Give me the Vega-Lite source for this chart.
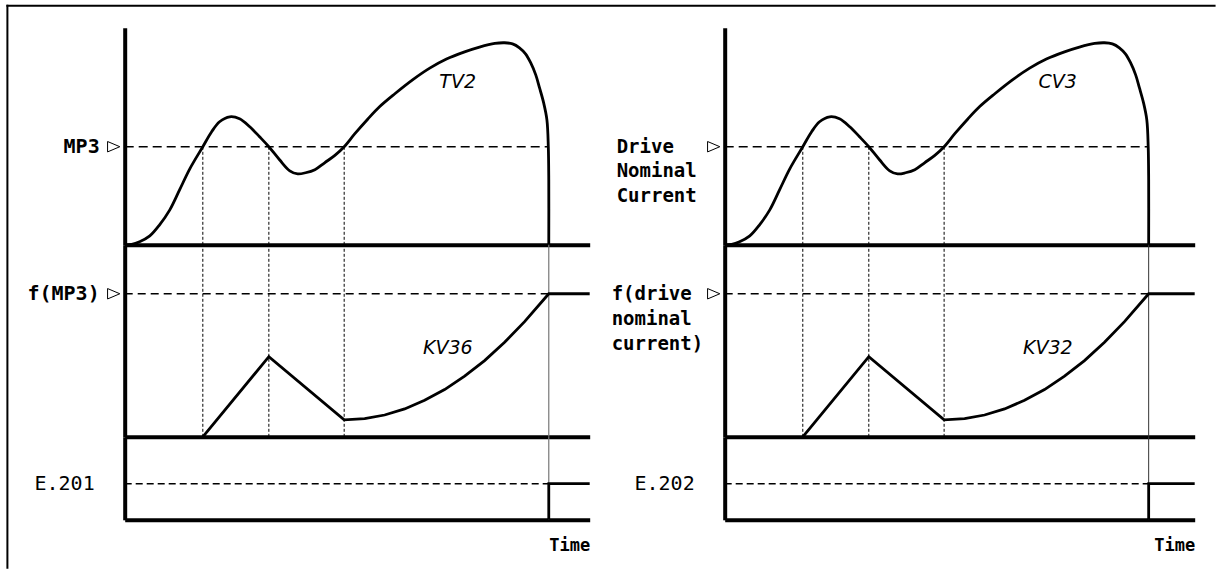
{
  "$schema": "https://vega.github.io/schema/vega-lite/v6.json",
  "padding": {"left": 4.7, "top": 2.8, "right": 0, "bottom": 0},
  "background": "white",
  "config": {
    "view": {"stroke": null},
    "axis": {"domainColor": "black", "domainWidth": 4, "ticks": false, "labels": false, "grid": false}
  },
  "datasets": {
    "tv2": [
      {"t": 0, "v": 0}, {"t": 1.5, "v": 0.2}, {"t": 3.2, "v": 1.4}, {"t": 5.4, "v": 4.1}, {"t": 7.5, "v": 9.2},
      {"t": 9.7, "v": 16.1}, {"t": 11.8, "v": 25.3}, {"t": 14.0, "v": 35.0}, {"t": 16.8, "v": 45.2}, {"t": 18.7, "v": 52.1},
      {"t": 20.4, "v": 56.7}, {"t": 22.6, "v": 59.0}, {"t": 24.7, "v": 58.1}, {"t": 26.9, "v": 54.4}, {"t": 29.0, "v": 49.8},
      {"t": 31.0, "v": 45.2}, {"t": 33.3, "v": 39.2}, {"t": 35.5, "v": 34.1}, {"t": 37.2, "v": 32.7}, {"t": 38.9, "v": 33.2},
      {"t": 40.9, "v": 34.6}, {"t": 43.0, "v": 37.8}, {"t": 45.2, "v": 41.2}, {"t": 47.2, "v": 45.2}, {"t": 49.5, "v": 51.2},
      {"t": 52.3, "v": 58.0}, {"t": 54.8, "v": 63.6}, {"t": 58.1, "v": 69.6}, {"t": 61.9, "v": 76.0}, {"t": 65.6, "v": 81.4},
      {"t": 69.2, "v": 85.6}, {"t": 73.1, "v": 88.9}, {"t": 76.3, "v": 91.1}, {"t": 79.6, "v": 92.8}, {"t": 81.7, "v": 93.1},
      {"t": 83.4, "v": 92.6}, {"t": 84.9, "v": 90.8}, {"t": 86.2, "v": 88.0}, {"t": 87.3, "v": 83.9}, {"t": 88.4, "v": 78.3},
      {"t": 89.2, "v": 72.4}, {"t": 90.1, "v": 65.4}, {"t": 90.8, "v": 57.6}, {"t": 91.1, "v": 45.2}, {"t": 91.2, "v": 30.0},
      {"t": 91.2, "v": 0}
    ],
    "kv36": [
      {"t": 16.8, "v": 0}, {"t": 31.0, "v": 41.7}, {"t": 47.2, "v": 8.85}, {"t": 51.6, "v": 9.5}, {"t": 55.9, "v": 11.35},
      {"t": 60.2, "v": 14.5}, {"t": 64.5, "v": 19.0}, {"t": 68.8, "v": 24.6}, {"t": 73.1, "v": 31.6}, {"t": 77.4, "v": 39.7},
      {"t": 81.7, "v": 49.2}, {"t": 86.0, "v": 60.0}, {"t": 91.2, "v": 74.5}, {"t": 100, "v": 74.5}
    ],
    "kv32": [
      {"t": 16.8, "v": 0}, {"t": 31.0, "v": 41.7}, {"t": 47.2, "v": 8.85}, {"t": 51.6, "v": 9.5}, {"t": 55.9, "v": 11.35},
      {"t": 60.2, "v": 14.5}, {"t": 64.5, "v": 19.0}, {"t": 68.8, "v": 24.6}, {"t": 73.1, "v": 31.6}, {"t": 77.4, "v": 39.7},
      {"t": 81.7, "v": 49.2}, {"t": 86.0, "v": 60.0}, {"t": 91.2, "v": 74.5}, {"t": 101.1, "v": 74.5}
    ],
    "e201": [
      {"t": 91.2, "v": 0}, {"t": 91.2, "v": 1}, {"t": 100, "v": 1}
    ],
    "e202": [
      {"t": 91.2, "v": 0}, {"t": 91.2, "v": 1}, {"t": 101.1, "v": 1}
    ],
    "crossings": [{"t": 16.8}, {"t": 31.0}, {"t": 47.2}],
    "trip": [{"t": 91.2}]
  },
  "columns": 2,
  "spacing": {"row": 0, "column": 135},
  "bounds": "flush",
  "concat": [
    {
      "width": 465, "height": 217,
      "layer": [
        {"data": {"values": [{}]}, "mark": {"type": "rule", "color": "black", "strokeWidth": 2},
         "encoding": {"x": {"datum": -25.44}, "x2": {"datum": 234.6}, "y": {"datum": 110.138}}},
        {"data": {"values": [{}]}, "mark": {"type": "rule", "color": "black", "strokeWidth": 2},
         "encoding": {"x": {"datum": -25.226}, "y": {"datum": 110.6}, "y2": {"datum": -149.3}}},
        {"data": {"name": "crossings"}, "mark": {"type": "rule", "color": "black", "strokeWidth": 1, "strokeDash": [3, 2]},
         "encoding": {"x": {"field": "t", "type": "quantitative", "title": null}, "y": {"datum": 0}, "y2": {"datum": 45.2}}},
        {"data": {"values": [{}]}, "mark": {"type": "rule", "color": "black", "strokeWidth": 1.5, "strokeDash": [9, 5]},
         "encoding": {"x": {"datum": 0}, "x2": {"datum": 91.1}, "y": {"datum": 45.2}}},
        {"data": {"values": [{}]}, "mark": {"type": "text", "text": "TV2", "font": "DejaVu Sans", "fontStyle": "italic", "fontSize": 19, "align": "center", "baseline": "middle", "color": "black"},
         "encoding": {"x": {"datum": 71.6}, "y": {"datum": 75.1}}},
        {"data": {"values": [{}]}, "mark": {"type": "text", "text": "MP3", "font": "DejaVu Sans Mono", "fontWeight": "bold", "fontSize": 20, "align": "right", "baseline": "middle", "dx": -25, "color": "black"},
         "encoding": {"x": {"datum": 0}, "y": {"datum": 45.2}}},
        {"data": {"values": [{}]}, "mark": {"type": "point", "shape": "M-1,-0.85L1,0L-1,0.85Z", "filled": false, "size": 150, "strokeWidth": 1, "color": "black", "opacity": 1, "xOffset": -11},
         "encoding": {"x": {"datum": 0}, "y": {"datum": 45.2}}},
        {"data": {"name": "tv2"}, "mark": {"type": "line", "interpolate": "catmull-rom", "color": "black", "strokeWidth": 2.8},
         "encoding": {
           "x": {"field": "t", "type": "quantitative", "scale": {"domain": [0, 100], "nice": false, "zero": false}, "axis": {"title": null}},
           "y": {"field": "v", "type": "quantitative", "scale": {"domain": [0, 100], "nice": false, "zero": false}, "axis": {"title": null}}}}
      ]
    },
    {
      "width": 470, "height": 217,
      "layer": [
        {"data": {"name": "crossings"}, "mark": {"type": "rule", "color": "black", "strokeWidth": 1, "strokeDash": [3, 2]},
         "encoding": {"x": {"field": "t", "type": "quantitative", "title": null}, "y": {"datum": 0}, "y2": {"datum": 45.2}}},
        {"data": {"values": [{}]}, "mark": {"type": "rule", "color": "black", "strokeWidth": 1.5, "strokeDash": [9, 5]},
         "encoding": {"x": {"datum": 0}, "x2": {"datum": 91.1}, "y": {"datum": 45.2}}},
        {"data": {"values": [{}]}, "mark": {"type": "text", "text": "CV3", "font": "DejaVu Sans", "fontStyle": "italic", "fontSize": 19, "align": "center", "baseline": "middle", "color": "black"},
         "encoding": {"x": {"datum": 71.6}, "y": {"datum": 75.1}}},
        {"data": {"values": [{}]}, "mark": {"type": "text", "text": ["Drive", "Nominal", "Current"], "font": "DejaVu Sans Mono", "fontWeight": "bold", "fontSize": 19, "lineHeight": 24.5, "align": "left", "baseline": "alphabetic", "dx": -108, "dy": 6, "color": "black"},
         "encoding": {"x": {"datum": 0}, "y": {"datum": 45.2}}},
        {"data": {"values": [{}]}, "mark": {"type": "point", "shape": "M-1,-0.85L1,0L-1,0.85Z", "filled": false, "size": 150, "strokeWidth": 1, "color": "black", "opacity": 1, "xOffset": -11},
         "encoding": {"x": {"datum": 0}, "y": {"datum": 45.2}}},
        {"data": {"name": "tv2"}, "mark": {"type": "line", "interpolate": "catmull-rom", "color": "black", "strokeWidth": 2.8},
         "encoding": {
           "x": {"field": "t", "type": "quantitative", "scale": {"domain": [0, 101.1], "nice": false, "zero": false}, "axis": {"title": null}},
           "y": {"field": "v", "type": "quantitative", "scale": {"domain": [0, 100], "nice": false, "zero": false}, "axis": {"title": null}}}}
      ]
    },
    {
      "width": 465, "height": 192,
      "layer": [
        {"data": {"name": "crossings"}, "mark": {"type": "rule", "color": "black", "strokeWidth": 1, "strokeDash": [3, 2]},
         "encoding": {"x": {"field": "t", "type": "quantitative", "title": null}, "y": {"datum": 0}, "y2": {"datum": 100}}},
        {"data": {"name": "trip"}, "mark": {"type": "rule", "color": "#777777", "strokeWidth": 1.2},
         "encoding": {"x": {"field": "t", "type": "quantitative", "title": null}, "y": {"datum": 0}, "y2": {"datum": 100}}},
        {"data": {"values": [{}]}, "mark": {"type": "rule", "color": "black", "strokeWidth": 1.5, "strokeDash": [8, 5]},
         "encoding": {"x": {"datum": 0}, "x2": {"datum": 91.2}, "y": {"datum": 74.5}}},
        {"data": {"values": [{}]}, "mark": {"type": "text", "text": "KV36", "font": "DejaVu Sans", "fontStyle": "italic", "fontSize": 19, "align": "center", "baseline": "middle", "color": "black"},
         "encoding": {"x": {"datum": 69.5}, "y": {"datum": 46.4}}},
        {"data": {"values": [{}]}, "mark": {"type": "text", "text": "f(MP3)", "font": "DejaVu Sans Mono", "fontWeight": "bold", "fontSize": 20, "align": "right", "baseline": "middle", "dx": -25, "color": "black"},
         "encoding": {"x": {"datum": 0}, "y": {"datum": 74.5}}},
        {"data": {"values": [{}]}, "mark": {"type": "point", "shape": "M-1,-0.85L1,0L-1,0.85Z", "filled": false, "size": 150, "strokeWidth": 1, "color": "black", "opacity": 1, "xOffset": -11},
         "encoding": {"x": {"datum": 0}, "y": {"datum": 74.5}}},
        {"data": {"name": "kv36"}, "mark": {"type": "line", "color": "black", "strokeWidth": 2.8},
         "encoding": {
           "x": {"field": "t", "type": "quantitative", "scale": {"domain": [0, 100], "nice": false, "zero": false}, "axis": {"title": null}},
           "y": {"field": "v", "type": "quantitative", "scale": {"domain": [0, 100], "nice": false, "zero": false}, "axis": {"title": null}}}}
      ]
    },
    {
      "width": 470, "height": 192,
      "layer": [
        {"data": {"name": "crossings"}, "mark": {"type": "rule", "color": "black", "strokeWidth": 1, "strokeDash": [3, 2]},
         "encoding": {"x": {"field": "t", "type": "quantitative", "title": null}, "y": {"datum": 0}, "y2": {"datum": 100}}},
        {"data": {"name": "trip"}, "mark": {"type": "rule", "color": "#333333", "strokeWidth": 1},
         "encoding": {"x": {"field": "t", "type": "quantitative", "title": null}, "y": {"datum": 0}, "y2": {"datum": 100}}},
        {"data": {"values": [{}]}, "mark": {"type": "rule", "color": "black", "strokeWidth": 1.5, "strokeDash": [8, 5]},
         "encoding": {"x": {"datum": 0}, "x2": {"datum": 91.2}, "y": {"datum": 74.5}}},
        {"data": {"values": [{}]}, "mark": {"type": "text", "text": "KV32", "font": "DejaVu Sans", "fontStyle": "italic", "fontSize": 19, "align": "center", "baseline": "middle", "color": "black"},
         "encoding": {"x": {"datum": 69.5}, "y": {"datum": 46.4}}},
        {"data": {"values": [{}]}, "mark": {"type": "text", "text": ["f(drive", "nominal", "current)"], "font": "DejaVu Sans Mono", "fontWeight": "bold", "fontSize": 19, "lineHeight": 25, "align": "left", "baseline": "alphabetic", "dx": -113, "dy": 6, "color": "black"},
         "encoding": {"x": {"datum": 0}, "y": {"datum": 74.5}}},
        {"data": {"values": [{}]}, "mark": {"type": "point", "shape": "M-1,-0.85L1,0L-1,0.85Z", "filled": false, "size": 150, "strokeWidth": 1, "color": "black", "opacity": 1, "xOffset": -11},
         "encoding": {"x": {"datum": 0}, "y": {"datum": 74.5}}},
        {"data": {"name": "kv32"}, "mark": {"type": "line", "color": "black", "strokeWidth": 2.8},
         "encoding": {
           "x": {"field": "t", "type": "quantitative", "scale": {"domain": [0, 101.1], "nice": false, "zero": false}, "axis": {"title": null}},
           "y": {"field": "v", "type": "quantitative", "scale": {"domain": [0, 100], "nice": false, "zero": false}, "axis": {"title": null}}}}
      ]
    },
    {
      "width": 465, "height": 83,
      "layer": [
        {"data": {"name": "trip"}, "mark": {"type": "rule", "color": "#777777", "strokeWidth": 1.2},
         "encoding": {"x": {"field": "t", "type": "quantitative", "title": "Time"}, "y": {"datum": 0}, "y2": {"datum": 2.3}}},
        {"data": {"values": [{}]}, "mark": {"type": "rule", "color": "black", "strokeWidth": 1.5, "strokeDash": [7, 4]},
         "encoding": {"x": {"datum": 0}, "x2": {"datum": 91.2}, "y": {"datum": 1}}},
        {"data": {"values": [{}]}, "mark": {"type": "text", "text": "E.201", "font": "DejaVu Sans Mono", "fontSize": 20, "align": "right", "baseline": "middle", "dx": -30, "color": "black"},
         "encoding": {"x": {"datum": 0}, "y": {"datum": 1}}},
        {"data": {"name": "e201"}, "mark": {"type": "line", "color": "black", "strokeWidth": 2.8},
         "encoding": {
           "x": {"field": "t", "type": "quantitative", "title": "Time", "scale": {"domain": [0, 100], "nice": false, "zero": false},
                 "axis": {"titleAnchor": "end", "titleFont": "DejaVu Sans Mono", "titleFontWeight": "bold", "titleFontSize": 17, "titlePadding": 18, "titleColor": "black"}},
           "y": {"field": "v", "type": "quantitative", "title": null, "scale": {"domain": [0, 2.3], "nice": false, "zero": false}}}}
      ]
    },
    {
      "width": 470, "height": 83,
      "layer": [
        {"data": {"name": "trip"}, "mark": {"type": "rule", "color": "#333333", "strokeWidth": 1},
         "encoding": {"x": {"field": "t", "type": "quantitative", "title": "Time"}, "y": {"datum": 0}, "y2": {"datum": 2.3}}},
        {"data": {"values": [{}]}, "mark": {"type": "rule", "color": "black", "strokeWidth": 1.5, "strokeDash": [7, 4]},
         "encoding": {"x": {"datum": 0}, "x2": {"datum": 91.2}, "y": {"datum": 1}}},
        {"data": {"values": [{}]}, "mark": {"type": "text", "text": "E.202", "font": "DejaVu Sans Mono", "fontSize": 20, "align": "right", "baseline": "middle", "dx": -30, "color": "black"},
         "encoding": {"x": {"datum": 0}, "y": {"datum": 1}}},
        {"data": {"name": "e202"}, "mark": {"type": "line", "color": "black", "strokeWidth": 2.8},
         "encoding": {
           "x": {"field": "t", "type": "quantitative", "title": "Time", "scale": {"domain": [0, 101.1], "nice": false, "zero": false},
                 "axis": {"titleAnchor": "end", "titleFont": "DejaVu Sans Mono", "titleFontWeight": "bold", "titleFontSize": 17, "titlePadding": 18, "titleColor": "black"}},
           "y": {"field": "v", "type": "quantitative", "title": null, "scale": {"domain": [0, 2.3], "nice": false, "zero": false}}}}
      ]
    }
  ]
}
